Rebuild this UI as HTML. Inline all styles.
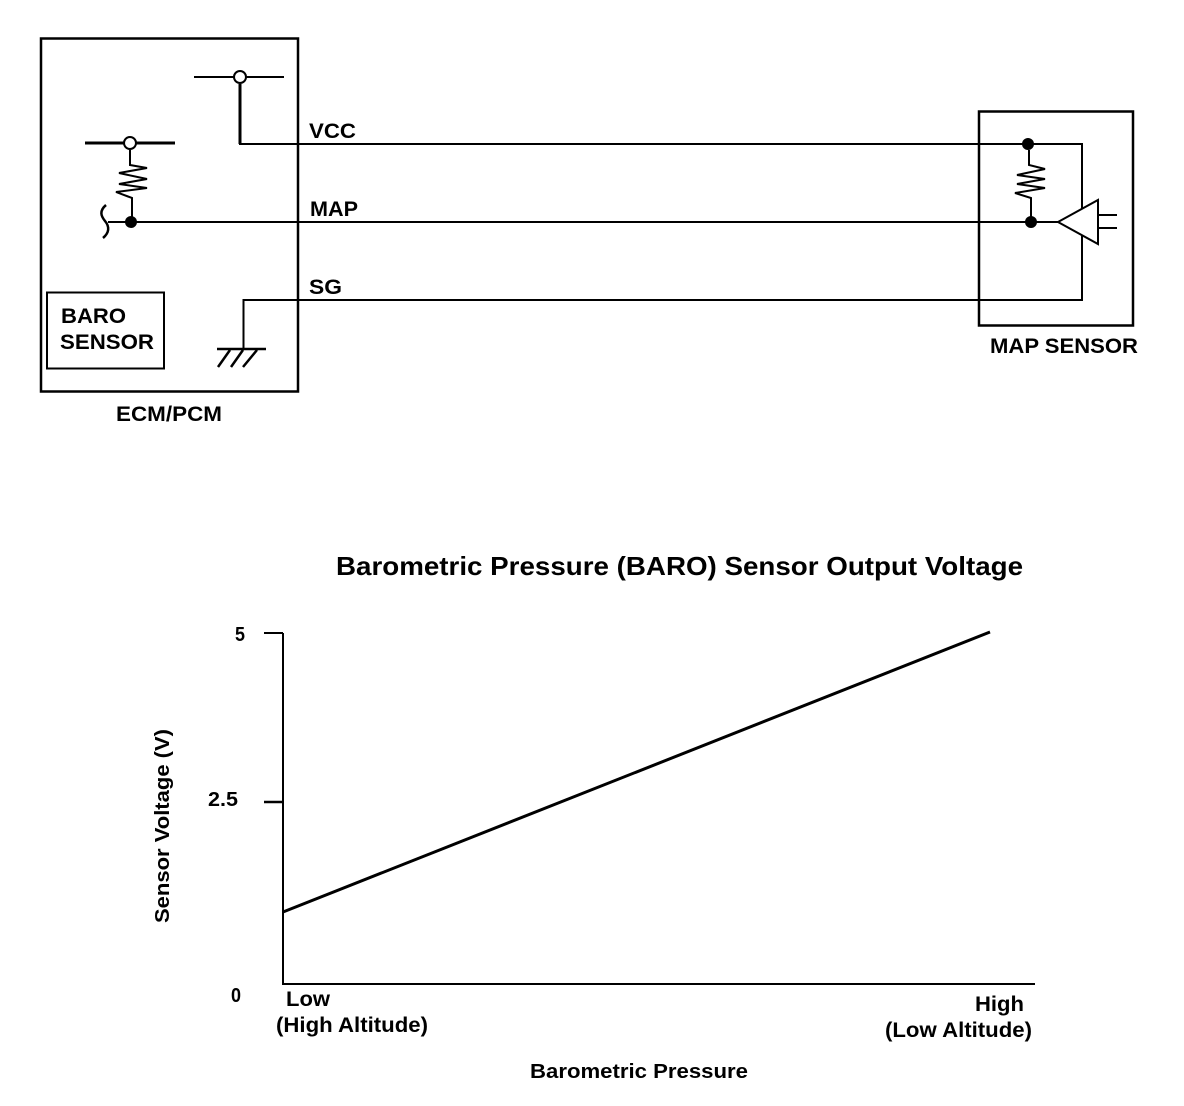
<!DOCTYPE html>
<html>
<head>
<meta charset="utf-8">
<style>
html,body{margin:0;padding:0;background:#fff;}
svg{display:block;}
text{font-family:"Liberation Sans",sans-serif;font-weight:bold;fill:#000;}
</style>
</head>
<body>
<svg width="1184" height="1106" viewBox="0 0 1184 1106" xmlns="http://www.w3.org/2000/svg">
<rect width="1184" height="1106" fill="#fff"/>
<g fill="none" stroke="#000" stroke-width="2">
<rect x="41" y="38.500" width="257" height="353" stroke-width="2.500"/>
<rect x="47" y="292.500" width="117" height="76"/>
<rect x="979" y="111.500" width="154" height="214" stroke-width="2.500"/>

<path d="M194 77H284"/>
<path d="M240 84V144" stroke-width="3"/>
<path d="M239 144H1082V300H243.500V349"/>
<path d="M85 143H175" stroke-width="3"/>
<path d="M130 150V165L147 168L119 173L147 179L119 184L147 188L116 192L132 198V222"/>
<path d="M108 222H1058"/>
<path d="M106 205C99 211 101 216 105 221C110 227 109 233 103 238" stroke-width="2.500"/>
<path d="M217 349H266" stroke-width="2.500"/>
<path d="M218 367L230 350M231 367L243 350M243 367L257 350" stroke-width="2.500"/>

<path d="M1029 150V165L1045 169L1017 175L1045 179L1017 184L1045 188L1015 193L1031 198V222"/>
<path d="M1058 222L1098 200V244Z" fill="#fff"/>
<path d="M1098 215H1117M1098 228H1117"/>

<path d="M283 633V984H1035"/>
<path d="M264 633H283"/>
<path d="M264 802H283" stroke-width="2.500"/>
<path d="M283 912L990 632" stroke-width="3"/>
</g>
<circle cx="240" cy="77" r="6" fill="#fff" stroke="#000" stroke-width="2"/>
<circle cx="130" cy="143" r="6" fill="#fff" stroke="#000" stroke-width="2"/>
<circle cx="131" cy="222" r="6" fill="#000"/>
<circle cx="1028" cy="144" r="6" fill="#000"/>
<circle cx="1031" cy="222" r="6" fill="#000"/>

<text x="309" y="138" font-size="21" textLength="47" lengthAdjust="spacingAndGlyphs">VCC</text>
<text x="310" y="216" font-size="21" textLength="48" lengthAdjust="spacingAndGlyphs">MAP</text>
<text x="309" y="294" font-size="21" textLength="33" lengthAdjust="spacingAndGlyphs">SG</text>
<text x="61" y="323" font-size="21" textLength="65" lengthAdjust="spacingAndGlyphs">BARO</text>
<text x="60" y="349" font-size="21" textLength="94" lengthAdjust="spacingAndGlyphs">SENSOR</text>
<text x="116" y="421" font-size="21" textLength="106" lengthAdjust="spacingAndGlyphs">ECM/PCM</text>
<text x="990" y="353" font-size="21" textLength="148" lengthAdjust="spacingAndGlyphs">MAP SENSOR</text>

<text x="336" y="575" font-size="26" textLength="687" lengthAdjust="spacingAndGlyphs">Barometric Pressure (BARO) Sensor Output Voltage</text>
<text x="235" y="641" font-size="20" textLength="10" lengthAdjust="spacingAndGlyphs">5</text>
<text x="208" y="806" font-size="20" textLength="30" lengthAdjust="spacingAndGlyphs">2.5</text>
<text x="231" y="1002" font-size="20" textLength="10" lengthAdjust="spacingAndGlyphs">0</text>
<text transform="translate(169 923) rotate(-90)" font-size="20" textLength="194" lengthAdjust="spacingAndGlyphs">Sensor Voltage (V)</text>
<text x="286" y="1006" font-size="21" textLength="44" lengthAdjust="spacingAndGlyphs">Low</text>
<text x="276" y="1032" font-size="21" textLength="152" lengthAdjust="spacingAndGlyphs">(High Altitude)</text>
<text x="975" y="1011" font-size="21" textLength="49" lengthAdjust="spacingAndGlyphs">High</text>
<text x="885" y="1037" font-size="21" textLength="147" lengthAdjust="spacingAndGlyphs">(Low Altitude)</text>
<text x="530" y="1078" font-size="20" textLength="218" lengthAdjust="spacingAndGlyphs">Barometric Pressure</text>
</svg>
</body>
</html>
